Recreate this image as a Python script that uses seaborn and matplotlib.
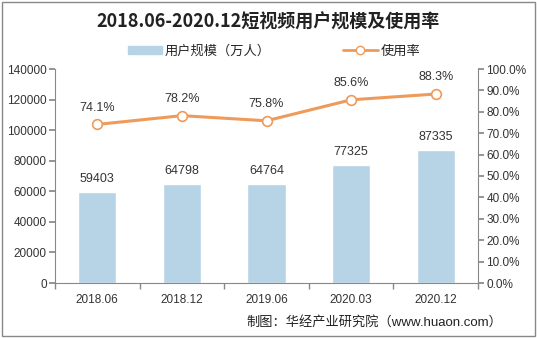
import matplotlib
matplotlib.use("Agg")
import matplotlib.pyplot as plt
import seaborn as sns
import pandas as pd
from matplotlib.patches import Rectangle
from matplotlib.lines import Line2D

categories = ["2018.06", "2018.12", "2019.06", "2020.03", "2020.12"]
users = [59403, 64798, 64764, 77325, 87335]
rate = [74.1, 78.2, 75.8, 85.6, 88.3]
left_ticks = [0, 20000, 40000, 60000, 80000, 100000, 120000, 140000]
right_ticks = [0, 10, 20, 30, 40, 50, 60, 70, 80, 90, 100]

sns.set_theme(style="white")
plt.rcParams['font.family'] = ['Liberation Sans', 'Noto Sans CJK SC', 'DejaVu Sans']

bar_color = "#B7D3E6"
line_color = "#EE9A5A"
text_color = "#333333"

df = pd.DataFrame({"cat": categories, "users": users, "rate": rate})

fig = plt.figure(figsize=(5.37, 3.38), dpi=100)
ax = fig.add_axes([55/537, 1-283/338, (478-55)/537, (283-69)/338])
sns.barplot(data=df, x="cat", y="users", color=bar_color, width=0.45, ax=ax, saturation=1)
ax.set_ylim(0, 140000)
ax.set_xlim(-0.5, 4.5)
ax.set_yticks(left_ticks)
ax.set_yticklabels([str(t) for t in left_ticks], fontsize=8.5, color=text_color)
ax.set_xlabel("")
ax.set_ylabel("")
ax.set_xticks(range(len(categories)))
ax.set_xticklabels(categories, fontsize=8.5, color=text_color)
ax.tick_params(axis='x', length=0, pad=8)
ax.set_xticks([i + 0.5 for i in range(-1, 5)], minor=True)
ax.tick_params(axis='x', which='minor', length=4, color="#888888", direction='out', bottom=True)
ax.tick_params(axis='y', length=4, color="#888888", direction='out', left=True, pad=2)
for s in ["top", "right"]:
    ax.spines[s].set_visible(False)
for s in ["left", "bottom"]:
    ax.spines[s].set_color("#888888")
    ax.spines[s].set_linewidth(0.8)
for i, v in enumerate(users):
    ax.text(i, v + 4500, str(v), ha="center", va="bottom", fontsize=9, color=text_color)

ax2 = ax.twinx()
sns.lineplot(data=df, x="cat", y="rate", color=line_color, linewidth=2.2, marker="o",
             markersize=7, markerfacecolor="white", markeredgecolor=line_color,
             markeredgewidth=1.2, ax=ax2, sort=False)
ax2.set_ylim(0, 100)
ax2.set_xlim(-0.5, 4.5)
ax2.set_yticks(right_ticks)
ax2.set_yticklabels([f"{t:.1f}%" for t in right_ticks], fontsize=8.5, color=text_color)
ax2.set_ylabel("")
ax2.tick_params(axis='y', length=4, color="#888888", direction='out', right=True, pad=2)
for s in ["top", "left", "bottom"]:
    ax2.spines[s].set_visible(False)
ax2.spines["right"].set_color("#888888")
ax2.spines["right"].set_linewidth(0.8)
for i, v in enumerate(rate):
    ax2.text(i, v + 5, f"{v}%", ha="center", va="bottom", fontsize=9, color=text_color)

fig.text(0.5, 1-22/338, "2018.06-2020.12短视频用户规模及使用率", ha="center", va="center",
         fontsize=13, fontweight="bold", color="#222222",
         family=['Noto Sans CJK SC', 'DejaVu Sans'])

handles = [Rectangle((0, 0), 1, 1, color=bar_color),
           Line2D([0], [0], color=line_color, lw=2, marker="o", markerfacecolor="white",
                  markeredgecolor=line_color, markersize=6)]
fig.legend(handles, ["用户规模（万人）", "使用率"], loc="center", bbox_to_anchor=(0.51, 1-51/338),
           ncol=2, frameon=False, columnspacing=5.5, handlelength=2.6, handleheight=0.5,
           handletextpad=0.2, prop={'family': ['Noto Sans CJK SC', 'DejaVu Sans'], 'size': 9.5})

fig.text(502/537, 1-322/338, "制图：华经产业研究院（www.huaon.com）", ha="right", va="center",
         fontsize=9.5, color="#222222", family=['Liberation Sans', 'Noto Sans CJK SC', 'DejaVu Sans'])

fig.patches.append(Rectangle((0.004, 0.006), 0.992, 0.988, transform=fig.transFigure,
                             fill=False, edgecolor="#888888", linewidth=1))

fig.savefig("out.png", dpi=100)
